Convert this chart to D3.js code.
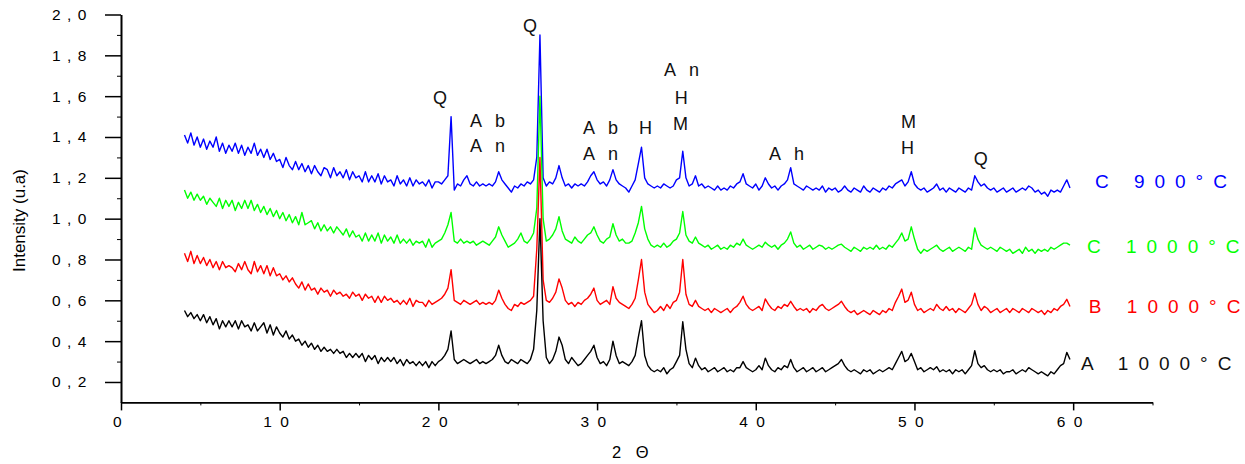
<!DOCTYPE html>
<html>
<head>
<meta charset="utf-8">
<script src="https://cdn.jsdelivr.net/npm/d3@7/dist/d3.min.js"></script>
<style>
html,body{margin:0;padding:0;background:#fff;}
svg{display:block;font-family:"Liberation Sans",Arial,sans-serif;}
</style>
</head>
<body>
<svg id="chart" width="1245" height="464"></svg>
<script>
// ---------- DATA ----------
const twoTheta = [
4.0,4.2,4.4,4.6,4.8, 5.0,5.2,5.4,5.6,5.8, 6.0,6.2,6.4,6.6,6.8, 7.0,7.2,7.4,7.6,7.8,
8.0,8.2,8.4,8.6,8.8, 9.0,9.2,9.4,9.6,9.8, 10.0,10.2,10.4,10.6,10.8, 11.0,11.2,11.4,11.6,11.8,
12.0,12.2,12.4,12.6,12.8, 13.0,13.2,13.4,13.6,13.8, 14.0,14.2,14.4,14.6,14.8, 15.0,15.2,15.4,15.6,15.8,
16.0,16.2,16.4,16.6,16.8, 17.0,17.2,17.4,17.6,17.8, 18.0,18.2,18.4,18.6,18.8, 19.0,19.2,19.4,19.6,19.8,
20.0,20.2,20.4,20.6,20.8, 21.0,21.2,21.4,21.6,21.8, 22.0,22.2,22.4,22.6,22.8, 23.0,23.2,23.4,23.6,23.8,
24.0,24.2,24.4,24.6,24.8, 25.0,25.2,25.4,25.6,25.8, 26.0,26.2,26.4,26.6,26.8, 27.0,27.2,27.4,27.6,27.8,
28.0,28.2,28.4,28.6,28.8, 29.0,29.2,29.4,29.6,29.8, 30.0,30.2,30.4,30.6,30.8, 31.0,31.2,31.4,31.6,31.8,
32.0,32.2,32.4,32.6,32.8, 33.0,33.2,33.4,33.6,33.8, 34.0,34.2,34.4,34.6,34.8, 35.0,35.2,35.4,35.6,35.8,
36.0,36.2,36.4,36.6,36.8, 37.0,37.2,37.4,37.6,37.8, 38.0,38.2,38.4,38.6,38.8, 39.0,39.2,39.4,39.6,39.8,
40.0,40.2,40.4,40.6,40.8, 41.0,41.2,41.4,41.6,41.8, 42.0,42.2,42.4,42.6,42.8, 43.0,43.2,43.4,43.6,43.8,
44.0,44.2,44.4,44.6,44.8, 45.0,45.2,45.4,45.6,45.8, 46.0,46.2,46.4,46.6,46.8, 47.0,47.2,47.4,47.6,47.8,
48.0,48.2,48.4,48.6,48.8, 49.0,49.2,49.4,49.6,49.8, 50.0,50.2,50.4,50.6,50.8, 51.0,51.2,51.4,51.6,51.8,
52.0,52.2,52.4,52.6,52.8, 53.0,53.2,53.4,53.6,53.8, 54.0,54.2,54.4,54.6,54.8, 55.0,55.2,55.4,55.6,55.8,
56.0,56.2,56.4,56.6,56.8, 57.0,57.2,57.4,57.6,57.8, 58.0,58.2,58.4,58.6,58.8, 59.0,59.2,59.4,59.6,59.8
];

const sampleC900 = [
1.41,1.37,1.42,1.36,1.40, 1.35,1.39,1.34,1.38,1.35, 1.40,1.33,1.37,1.32,1.36, 1.33,1.37,1.32,1.36,1.31,
1.35,1.32,1.37,1.31,1.34, 1.30,1.34,1.29,1.32,1.28, 1.29,1.25,1.30,1.26,1.24, 1.28,1.24,1.27,1.23,1.26,
1.22,1.26,1.23,1.21,1.25, 1.24,1.20,1.25,1.21,1.23, 1.20,1.24,1.19,1.23,1.20, 1.21,1.18,1.23,1.18,1.21,
1.18,1.22,1.17,1.21,1.18, 1.19,1.16,1.21,1.17,1.19, 1.16,1.20,1.16,1.19,1.17, 1.18,1.16,1.19,1.15,1.18,
1.18,1.17,1.19,1.21,1.50, 1.14,1.17,1.16,1.19,1.21, 1.17,1.16,1.18,1.16,1.17, 1.16,1.17,1.16,1.18,1.23,
1.19,1.17,1.15,1.13,1.16, 1.15,1.17,1.16,1.18,1.17, 1.19,1.30,1.90,1.20,1.16, 1.18,1.17,1.20,1.26,1.20,
1.16,1.17,1.15,1.17,1.16, 1.17,1.16,1.18,1.21,1.23, 1.19,1.17,1.18,1.16,1.19, 1.24,1.19,1.17,1.16,1.15,
1.13,1.16,1.19,1.27,1.35, 1.20,1.17,1.16,1.15,1.16, 1.15,1.17,1.16,1.15,1.16, 1.19,1.20,1.33,1.20,1.16,
1.17,1.21,1.16,1.17,1.15, 1.16,1.15,1.14,1.16,1.14, 1.15,1.14,1.16,1.15,1.17, 1.18,1.22,1.17,1.16,1.15,
1.17,1.14,1.16,1.20,1.17, 1.15,1.16,1.14,1.16,1.17, 1.19,1.25,1.17,1.16,1.15, 1.14,1.16,1.15,1.14,1.15,
1.14,1.16,1.13,1.15,1.14, 1.15,1.13,1.14,1.16,1.14, 1.13,1.15,1.14,1.13,1.16, 1.14,1.13,1.15,1.14,1.13,
1.15,1.14,1.16,1.15,1.17, 1.18,1.19,1.16,1.18,1.23, 1.17,1.15,1.14,1.15,1.13, 1.14,1.15,1.17,1.14,1.15,
1.13,1.15,1.14,1.13,1.15, 1.14,1.13,1.15,1.14,1.21, 1.18,1.16,1.17,1.15,1.14, 1.15,1.13,1.14,1.15,1.13,
1.14,1.15,1.13,1.14,1.15, 1.14,1.16,1.15,1.13,1.14, 1.12,1.13,1.11,1.14,1.13, 1.14,1.13,1.16,1.19,1.15
];

const sampleC1000 = [
1.14,1.10,1.13,1.09,1.12, 1.09,1.11,1.07,1.10,1.08, 1.06,1.10,1.05,1.09,1.06, 1.09,1.04,1.08,1.05,1.09,
1.05,1.09,1.04,1.07,1.03, 1.06,1.02,1.05,1.01,1.04, 1.00,1.03,0.99,1.02,0.98, 1.01,0.97,1.03,0.97,0.98,
0.99,0.95,0.98,0.94,0.97, 0.94,0.96,0.93,0.96,0.94, 0.92,0.95,0.91,0.94,0.91, 0.92,0.89,0.93,0.89,0.92,
0.89,0.93,0.88,0.92,0.89, 0.91,0.88,0.92,0.88,0.90, 0.88,0.90,0.87,0.89,0.88, 0.89,0.86,0.90,0.86,0.88,
0.89,0.90,0.93,0.97,1.03, 0.89,0.88,0.90,0.88,0.89, 0.88,0.89,0.87,0.88,0.89, 0.88,0.87,0.89,0.91,0.96,
0.92,0.89,0.86,0.87,0.88, 0.90,0.93,0.89,0.88,0.90, 0.93,1.05,1.60,1.00,0.89, 0.90,0.92,0.95,1.01,0.94,
0.90,0.89,0.88,0.91,0.89, 0.88,0.90,0.92,0.93,0.96, 0.92,0.89,0.88,0.90,0.91, 0.975,0.92,0.89,0.90,0.88,
0.88,0.89,0.93,0.98,1.06, 0.95,0.90,0.87,0.86,0.87, 0.86,0.88,0.86,0.87,0.89, 0.90,0.93,1.035,0.92,0.89,
0.88,0.91,0.88,0.87,0.86, 0.87,0.85,0.86,0.87,0.85, 0.86,0.85,0.87,0.86,0.88, 0.87,0.90,0.87,0.86,0.85,
0.86,0.87,0.86,0.885,0.87, 0.86,0.87,0.85,0.87,0.88, 0.90,0.935,0.88,0.86,0.87, 0.85,0.86,0.87,0.85,0.86,
0.87,0.865,0.85,0.86,0.85, 0.86,0.87,0.875,0.86,0.85, 0.84,0.86,0.85,0.84,0.86, 0.85,0.86,0.85,0.87,0.85,
0.86,0.85,0.87,0.86,0.88, 0.90,0.93,0.89,0.90,0.96, 0.90,0.85,0.83,0.85,0.84, 0.85,0.86,0.87,0.85,0.84,
0.85,0.86,0.84,0.85,0.86, 0.85,0.84,0.86,0.85,0.955, 0.90,0.87,0.86,0.85,0.86, 0.85,0.84,0.86,0.85,0.84,
0.85,0.83,0.84,0.85,0.83, 0.86,0.84,0.85,0.83,0.85, 0.84,0.85,0.84,0.86,0.85, 0.86,0.87,0.88,0.88,0.87
];

const sampleB1000 = [
0.83,0.79,0.84,0.78,0.82, 0.78,0.81,0.77,0.80,0.76, 0.79,0.75,0.79,0.76,0.77, 0.76,0.74,0.78,0.75,0.79,
0.75,0.73,0.79,0.74,0.77, 0.73,0.77,0.72,0.76,0.72, 0.73,0.70,0.72,0.69,0.71, 0.68,0.66,0.69,0.65,0.68,
0.65,0.66,0.63,0.66,0.64, 0.65,0.62,0.65,0.63,0.64, 0.62,0.63,0.61,0.64,0.62, 0.63,0.60,0.63,0.61,0.62,
0.59,0.62,0.59,0.62,0.60, 0.61,0.59,0.60,0.58,0.60, 0.58,0.61,0.57,0.60,0.59, 0.59,0.57,0.60,0.58,0.59,
0.60,0.61,0.63,0.66,0.75, 0.60,0.59,0.58,0.60,0.59, 0.58,0.59,0.60,0.58,0.59, 0.58,0.59,0.58,0.60,0.65,
0.61,0.58,0.56,0.55,0.58, 0.57,0.59,0.58,0.59,0.60, 0.62,0.85,1.30,0.70,0.60, 0.59,0.61,0.64,0.705,0.66,
0.60,0.58,0.59,0.57,0.59, 0.58,0.60,0.61,0.63,0.66, 0.60,0.58,0.59,0.60,0.58, 0.667,0.61,0.59,0.58,0.57,
0.56,0.58,0.61,0.70,0.80, 0.64,0.58,0.56,0.54,0.55, 0.57,0.55,0.58,0.56,0.59, 0.60,0.64,0.80,0.63,0.58,
0.57,0.60,0.57,0.56,0.55, 0.56,0.54,0.56,0.55,0.54, 0.55,0.56,0.54,0.56,0.57, 0.59,0.62,0.58,0.56,0.55,
0.56,0.57,0.55,0.607,0.58, 0.56,0.55,0.57,0.56,0.58, 0.57,0.595,0.57,0.55,0.56, 0.55,0.56,0.54,0.56,0.55,
0.57,0.58,0.56,0.55,0.56, 0.57,0.58,0.595,0.57,0.55, 0.54,0.55,0.53,0.54,0.55, 0.54,0.53,0.55,0.54,0.53,
0.55,0.54,0.56,0.55,0.59, 0.62,0.655,0.59,0.60,0.64, 0.58,0.55,0.56,0.54,0.55, 0.56,0.55,0.58,0.56,0.55,
0.57,0.55,0.56,0.54,0.56, 0.55,0.54,0.56,0.58,0.635, 0.58,0.55,0.57,0.56,0.54, 0.55,0.56,0.54,0.55,0.56,
0.54,0.56,0.55,0.54,0.56, 0.55,0.54,0.56,0.55,0.54, 0.55,0.53,0.55,0.54,0.56, 0.55,0.57,0.58,0.605,0.57
];

const sampleA1000 = [
0.55,0.52,0.54,0.51,0.53, 0.50,0.53,0.49,0.52,0.48, 0.51,0.46,0.50,0.47,0.50, 0.47,0.50,0.46,0.50,0.47,
0.48,0.45,0.49,0.45,0.47, 0.49,0.44,0.48,0.43,0.47, 0.44,0.42,0.45,0.41,0.43, 0.40,0.41,0.38,0.40,0.37,
0.39,0.36,0.38,0.35,0.37, 0.35,0.36,0.34,0.36,0.34, 0.35,0.32,0.34,0.32,0.34, 0.32,0.34,0.30,0.33,0.31,
0.33,0.29,0.32,0.30,0.32, 0.30,0.32,0.29,0.31,0.28, 0.31,0.29,0.30,0.28,0.30, 0.28,0.30,0.27,0.30,0.28,
0.30,0.31,0.33,0.36,0.45, 0.31,0.29,0.30,0.31,0.30, 0.29,0.30,0.31,0.29,0.30, 0.29,0.30,0.31,0.33,0.38,
0.33,0.30,0.29,0.31,0.30, 0.29,0.31,0.30,0.29,0.31, 0.36,0.55,1.00,0.50,0.32, 0.29,0.31,0.35,0.42,0.38,
0.31,0.29,0.32,0.30,0.28, 0.29,0.31,0.33,0.35,0.38, 0.32,0.29,0.30,0.28,0.31, 0.40,0.33,0.29,0.30,0.29,
0.28,0.30,0.33,0.42,0.50, 0.33,0.28,0.26,0.25,0.26, 0.25,0.27,0.24,0.26,0.27, 0.30,0.33,0.495,0.36,0.29,
0.27,0.317,0.28,0.26,0.27, 0.25,0.26,0.27,0.25,0.26, 0.27,0.25,0.26,0.25,0.27, 0.27,0.30,0.27,0.26,0.25,
0.26,0.28,0.26,0.317,0.28, 0.26,0.25,0.27,0.26,0.28, 0.27,0.31,0.27,0.25,0.26, 0.27,0.25,0.26,0.27,0.25,
0.26,0.27,0.25,0.26,0.27, 0.28,0.29,0.31,0.28,0.26, 0.25,0.26,0.25,0.24,0.26, 0.25,0.26,0.24,0.25,0.26,
0.25,0.26,0.27,0.26,0.29, 0.32,0.35,0.30,0.31,0.34, 0.30,0.26,0.27,0.25,0.26, 0.27,0.26,0.275,0.25,0.26,
0.25,0.26,0.24,0.26,0.25, 0.26,0.24,0.26,0.28,0.353, 0.29,0.27,0.28,0.26,0.25, 0.26,0.25,0.26,0.24,0.25,
0.25,0.26,0.24,0.25,0.26, 0.25,0.27,0.26,0.25,0.24, 0.25,0.24,0.23,0.25,0.24, 0.26,0.28,0.29,0.345,0.31
];

const seriesNames  = ["C 900°C", "C 1000°C", "B 1000°C", "A 1000°C"];
const seriesColors = ["#0000ff", "#00ff00", "#ff0000", "#000000"];
const seriesValues = [sampleC900, sampleC1000, sampleB1000, sampleA1000];
// label anchor (2θ, intensity) for each series name
const seriesLabelX = [61.37, 60.87, 60.99, 60.49];
const seriesLabelY = [1.150, 0.832, 0.538, 0.259];

// peak phase annotations: text, 2θ, intensity
const peakText = ["Q", "Ab", "An", "Q", "Ab", "An", "H", "An", "H", "M", "Ah", "M", "H", "Q"];
const peakX    = [19.66, 21.99, 21.99, 25.33, 29.11, 29.11, 32.64, 34.21, 34.90, 34.78, 40.83, 49.15, 49.15, 53.74];
const peakY    = [1.561, 1.449, 1.326, 1.914, 1.414, 1.286, 1.414, 1.698, 1.561, 1.434, 1.286, 1.444, 1.317, 1.263];

const xTicks = [0, 10, 20, 30, 40, 50, 60];
const xMinorTicks = [5, 15, 25, 35, 45, 55, 65];
const yTicks = [0.2, 0.4, 0.6, 0.8, 1.0, 1.2, 1.4, 1.6, 1.8, 2.0];
const yMinorTicks = [0.3, 0.5, 0.7, 0.9, 1.1, 1.3, 1.5, 1.7, 1.9];

// ---------- CHART ----------
const svg = d3.select("#chart");
const x = d3.scaleLinear().domain([0, 65]).range([121, 1152.5]);
const y = d3.scaleLinear().domain([0.1, 2.0]).range([402.4, 14.5]);

const line = d3.line().x(d => x(d[0])).y(d => y(d[1]));

const g = svg.append("g");
seriesValues.forEach((vals, k) => {
  const pts = twoTheta.map((t, i) => [t, vals[i]]);
  g.append("path")
    .attr("d", line(pts))
    .attr("fill", "none")
    .attr("stroke", seriesColors[k])
    .attr("stroke-width", 1.4)
    .attr("stroke-linejoin", "round");
});

// axes
const fmtY = d => d3.format(".1f")(d).replace(".", ",");
const yAxis = svg.append("g").attr("transform", "translate(121,0)")
  .call(d3.axisLeft(y).tickValues(yTicks).tickFormat(fmtY).tickSize(16).tickPadding(12).tickSizeOuter(0));
yAxis.select(".domain").attr("stroke-width", 2);
yAxis.selectAll(".tick line").attr("stroke-width", 1.5);
yAxis.selectAll("text").attr("font-size", 15.5).attr("letter-spacing", "6.5px").attr("fill", "#000")
  .attr("font-family", "Liberation Sans, Arial, sans-serif");
svg.append("g").attr("transform", "translate(121,0)")
  .call(d3.axisLeft(y).tickValues(yMinorTicks).tickFormat("").tickSize(4).tickSizeOuter(0))
  .call(s => s.select(".domain").remove());

const xAxis = svg.append("g").attr("transform", "translate(0,402.4)")
  .call(d3.axisBottom(x).tickValues(xTicks).tickFormat(d3.format("d")).tickSize(8).tickPadding(6).tickSizeOuter(0));
xAxis.select(".domain").attr("stroke-width", 1.6);
xAxis.selectAll(".tick line").attr("stroke-width", 1.5);
xAxis.selectAll("text").attr("font-size", 15.5).attr("letter-spacing", "8.4px").attr("fill", "#000")
  .attr("font-family", "Liberation Sans, Arial, sans-serif");
svg.append("g").attr("transform", "translate(0,402.4)")
  .call(d3.axisBottom(x).tickValues(xMinorTicks).tickFormat("").tickSize(3).tickSizeOuter(0))
  .call(s => s.select(".domain").remove());

// axis titles
svg.append("text").attr("x", 612).attr("y", 458)
  .attr("font-size", 16.5).attr("letter-spacing", "5px").text("2 Θ");
svg.append("text").attr("transform", "translate(25,220.5) rotate(-90)")
  .attr("text-anchor", "middle").attr("font-size", "17px").text("Intensity (u.a)");

// peak annotations
svg.append("g").selectAll("text").data(peakText).join("text")
  .attr("x", (d, i) => x(peakX[i]))
  .attr("y", (d, i) => y(peakY[i]))
  .attr("font-size", 18)
  .attr("letter-spacing", "4.5px")
  .attr("fill", "#111")
  .text(d => d.length > 1 ? d[0] + " " + d.slice(1) : d);

// series labels (spaced letters; no trailing spacing after last glyph)
const lab = svg.append("g").selectAll("text").data(seriesNames).join("text")
  .attr("x", (d, i) => x(seriesLabelX[i]))
  .attr("y", (d, i) => y(seriesLabelY[i]))
  .attr("font-size", 19)
  .attr("fill", (d, i) => seriesColors[i] === "#000000" ? "#111" : seriesColors[i]);
lab.append("tspan").attr("letter-spacing", "10px").text(d => d.slice(0, -1));
lab.append("tspan").attr("letter-spacing", "0px").text(d => d.slice(-1));
</script>
</body>
</html>
